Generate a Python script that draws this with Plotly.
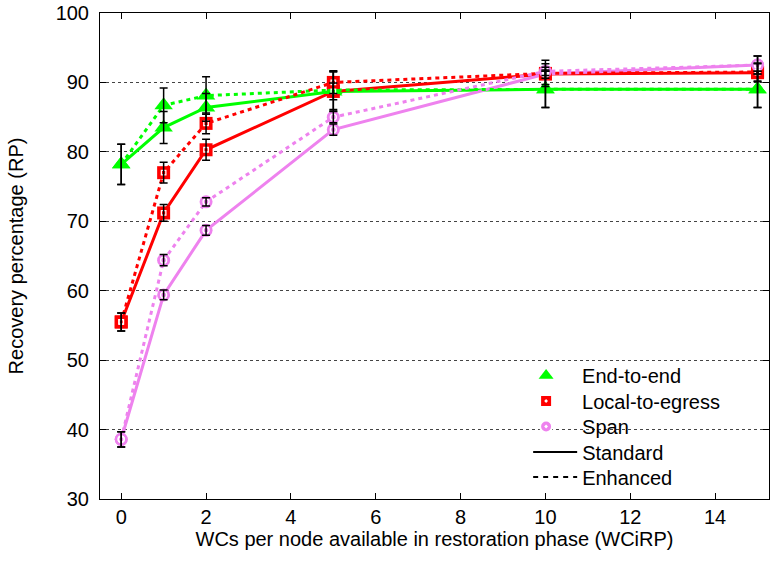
import plotly.graph_objects as go

# ---- data ----
wc = [0, 1, 2, 5, 10, 15]

e2e_std = [78.2, 83.5, 86.4, 88.7, 89.0, 89.0]
e2e_std_err = [2.9, 2.3, 2.0, 2.8, 2.6, 2.6]
e2e_enh = [78.2, 86.7, 88.1, 88.9, 89.0, 89.0]
e2e_enh_err = [2.9, 2.5, 2.7, 2.8, 2.6, 2.6]

l2e_std = [55.5, 71.2, 80.3, 88.7, 91.2, 91.4]
l2e_std_err = [1.3, 1.2, 1.5, 1.2, 1.5, 1.3]
l2e_enh = [55.5, 77.0, 84.1, 90.0, 91.3, 91.5]
l2e_enh_err = [1.3, 1.5, 1.5, 1.6, 1.9, 1.3]

span_std = [38.6, 59.4, 68.7, 83.2, 91.2, 92.5]
span_std_err = [1.1, 0.7, 0.7, 0.8, 0.6, 1.3]
span_enh = [38.6, 64.4, 72.8, 85.0, 91.6, 92.5]
span_enh_err = [1.1, 0.8, 0.6, 0.8, 0.6, 1.3]

x_ticks = [0, 2, 4, 6, 8, 10, 12, 14]
y_ticks = [30, 40, 50, 60, 70, 80, 90, 100]

legend_names = ["End-to-end", "Local-to-egress", "Span", "Standard", "Enhanced"]

GREEN = "#00ff00"
RED = "#ff0000"
VIOLET = "#ee82ee"
FONT = "Liberation Sans, Arial, sans-serif"
FS = 20

series = [
    (e2e_std, e2e_std_err, GREEN, "triangle-up", 16, "solid"),
    (l2e_std, l2e_std_err, RED, "square", 13, "solid"),
    (span_std, span_std_err, VIOLET, "circle", 13, "solid"),
    (e2e_enh, e2e_enh_err, GREEN, "triangle-up", 16, "4px,4px"),
    (l2e_enh, l2e_enh_err, RED, "square", 13, "4px,4px"),
    (span_enh, span_enh_err, VIOLET, "circle", 13, "4px,4px"),
]

fig = go.Figure()

# lines + markers
for ys, err, col, sym, sz, dash in series:
    fig.add_trace(go.Scatter(
        x=wc, y=ys, mode="lines+markers", showlegend=False, hoverinfo="skip",
        cliponaxis=False,
        line=dict(color=col, width=3, dash=dash),
        marker=dict(symbol=sym, size=sz, color=col, line=dict(width=0)),
    ))

# white inner decorations
for ys, err, col, sym, sz, dash in series:
    if sym == "square":
        fig.add_trace(go.Scatter(
            x=wc, y=ys, mode="markers", showlegend=False, hoverinfo="skip", cliponaxis=False,
            marker=dict(symbol="square-open", size=4.5, color="white", line=dict(width=1.3, color="white")),
        ))
    elif sym == "circle":
        fig.add_trace(go.Scatter(
            x=wc, y=ys, mode="markers", showlegend=False, hoverinfo="skip", cliponaxis=False,
            marker=dict(symbol="circle-open", size=6, color="white", line=dict(width=1.4, color="white")),
        ))

# error bars on top
for ys, err, col, sym, sz, dash in series:
    fig.add_trace(go.Scatter(
        x=wc, y=ys, mode="markers", showlegend=False, hoverinfo="skip", cliponaxis=False,
        marker=dict(size=2, color="rgba(0,0,0,0)"),
        error_y=dict(type="data", array=err, visible=True, color="black", thickness=1.5, width=4),
    ))

# legend entries (one legend box per row)
leg_ids = ["legend", "legend2", "legend3", "legend4", "legend5"]
fig.add_trace(go.Scatter(x=[None], y=[None], mode="markers", name=legend_names[0], legend=leg_ids[0],
                         marker=dict(symbol="triangle-up", size=13, color=GREEN, line=dict(width=0))))
fig.add_trace(go.Scatter(x=[None], y=[None], mode="markers", name=legend_names[1], legend=leg_ids[1],
                         marker=dict(symbol="square-dot", size=12, color=RED, line=dict(width=2, color="white"))))
fig.add_trace(go.Scatter(x=[None], y=[None], mode="markers", name=legend_names[2], legend=leg_ids[2],
                         marker=dict(symbol="circle-dot", size=12, color=VIOLET, line=dict(width=2, color="white"))))
fig.add_trace(go.Scatter(x=[None], y=[None], mode="lines", name=legend_names[3], legend=leg_ids[3],
                         line=dict(color="black", width=2)))
fig.add_trace(go.Scatter(x=[None], y=[None], mode="lines", name=legend_names[4], legend=leg_ids[4],
                         line=dict(color="black", width=2, dash="5px,5px")))

plot_top, plot_bottom = 13, 499
row_y_px = [375.5, 401, 426.5, 452, 477]
legend_x = [0.613, 0.613, 0.613, 0.640, 0.640]
legend_itemwidth = [62, 62, 62, 44, 44]
legend_layout = {}
for lid, ypx, lx, iw in zip(leg_ids, row_y_px, legend_x, legend_itemwidth):
    legend_layout[lid] = dict(
        x=lx, y=(plot_bottom - ypx) / (plot_bottom - plot_top),
        xanchor="left", yanchor="middle", itemwidth=iw,
        bgcolor="rgba(0,0,0,0)", borderwidth=0,
        font=dict(family=FONT, size=FS, color="black"),
    )

fig.update_layout(
    width=770, height=561,
    margin=dict(l=100, r=1, t=13, b=62),
    paper_bgcolor="white", plot_bgcolor="white",
    font=dict(family=FONT, size=FS, color="black"),
    showlegend=True,
    xaxis=dict(
        range=[-0.5, 15.27], tickvals=x_ticks, ticktext=[str(v) for v in x_ticks],
        showgrid=False, zeroline=False, automargin=False,
        showline=True, linecolor="black", linewidth=1, mirror="allticks",
        ticks="inside", ticklen=6, tickcolor="black",
        title=dict(text="WCs per node available in restoration phase (WCiRP)", standoff=4,
                   font=dict(family=FONT, size=FS)),
        tickfont=dict(family=FONT, size=FS),
    ),
    yaxis=dict(
        range=[30, 100], tickvals=y_ticks, ticktext=[str(v) for v in y_ticks],
        showgrid=True, gridcolor="#444", griddash="dot", gridwidth=1, zeroline=False,
        automargin=False, ticklabeloverflow="allow",
        showline=True, linecolor="black", linewidth=1, mirror="allticks",
        ticks="inside", ticklen=6, tickcolor="black", ticklabelstandoff=6,
        title=dict(text="Recovery percentage (RP)", standoff=26,
                   font=dict(family=FONT, size=FS)),
        tickfont=dict(family=FONT, size=FS),
    ),
    **legend_layout,
)

# remove the browser's default page margin so the figure sits at the window's corner
fig.write_html("out.html", config={"displayModeBar": False},
               post_script="document.body.style.margin='0';")
